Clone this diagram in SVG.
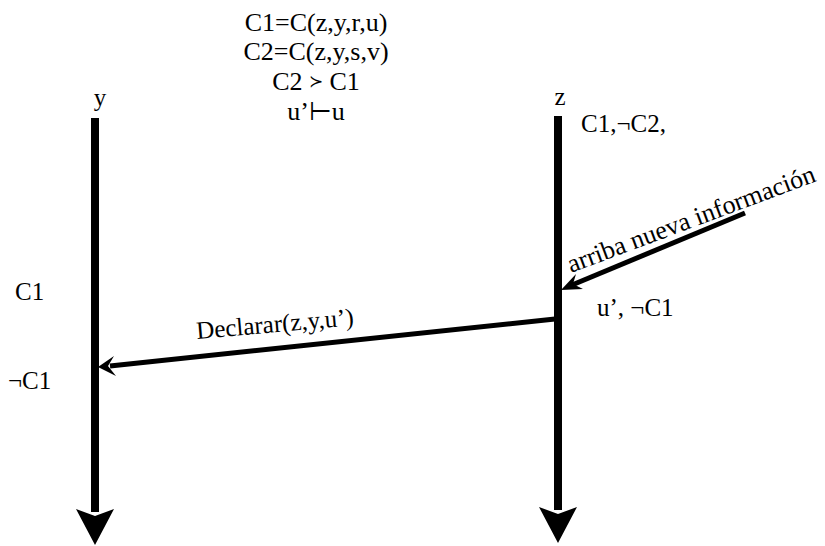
<svg xmlns="http://www.w3.org/2000/svg" width="825" height="546" viewBox="0 0 825 546">
<defs>
<style>
text{font-family:"Liberation Serif","Times New Roman",serif;font-size:25px;fill:#000}
.big{font-size:26px}
.sm{font-size:17px}
.life{stroke:#000;stroke-width:8;fill:none}
.msg{stroke:#000;stroke-width:5;fill:none}
</style>
</defs>
<rect width="825" height="546" fill="#fff"/>
<g id="header">
<text class="big" x="316" y="31" text-anchor="middle">C1=C(z,y,r,u)</text>
<text class="big" x="316" y="60" text-anchor="middle">C2=C(z,y,s,v)</text>
<text class="big" x="316" y="90" text-anchor="middle">C2 <tspan class="sm" dy="-3">≻</tspan><tspan dy="3"> C1</tspan></text>
<text class="big" x="316" y="120" text-anchor="middle">u’⊢u</text>
</g>
<g id="lifeline-y">
<text x="100" y="106" text-anchor="middle">y</text>
<text x="15" y="300">C1</text>
<text x="8" y="389">¬C1</text>
</g>
<g id="lifeline-z">
<text x="560" y="105" text-anchor="middle">z</text>
<text x="581" y="132">C1,¬C2,</text>
<text x="597" y="316">u’, ¬C1</text>
</g>
<g id="connectors">
<line class="life" x1="95" y1="118" x2="95" y2="512"/>
<path d="M95 545 L76 509 L95 516 L114 509 Z" fill="#000"/>
<line class="life" x1="558" y1="116" x2="558" y2="510"/>
<path d="M558 543 L539 507 L558 514 L577 507 Z" fill="#000"/>
<line class="msg" x1="745" y1="213" x2="572" y2="285"/>
<path d="M561 290 L576 274 L573 284 L583 289 Z" fill="#000"/>
<line class="msg" x1="555" y1="319" x2="110" y2="366"/>
<path d="M98 367 L114 356 L108 366 L116 376 Z" fill="#000"/>
<text class="big" x="571" y="273" transform="rotate(-20.5 571 273)">arriba nueva información</text>
<text x="197" y="339" transform="rotate(-5 197 339)">Declarar(z,y,u’)</text>
</g>
</svg>
